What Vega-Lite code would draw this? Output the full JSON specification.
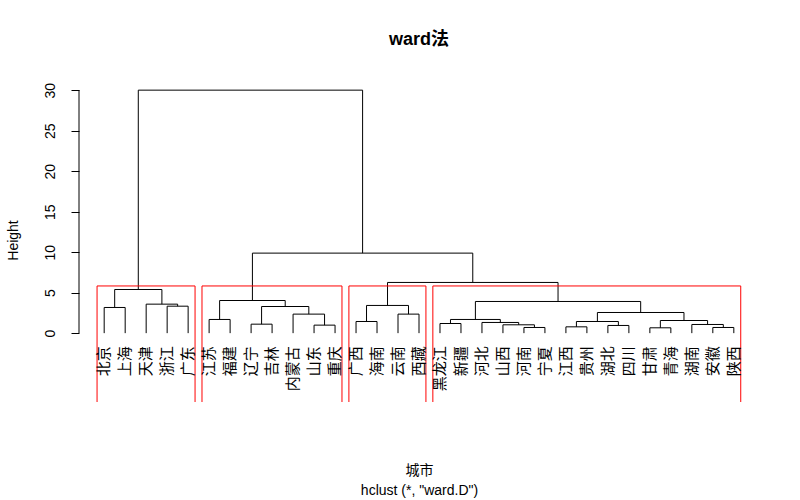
{
  "$schema": "https://vega.github.io/schema/vega-lite/v6.json",
  "width": 680,
  "height": 324,
  "autosize": {"type": "none"},
  "padding": {"left": 79, "top": 78, "right": 41, "bottom": 98},
  "background": "white",
  "title": {"text": "ward法", "font": "Liberation Sans, Noto Sans CJK SC", "fontSize": 18, "fontWeight": "bold", "color": "black", "anchor": "middle", "offset": 29},
  "config": {"view": {"stroke": null}},
  "resolve": {"axis": {"x": "independent", "y": "independent"}},
  "datasets": {
    "merges": [
      {"left": 1, "leftHeight": 0, "right": 2, "rightHeight": 0, "height": 3.17},
      {"left": 4, "leftHeight": 0, "right": 5, "rightHeight": 0, "height": 3.33},
      {"left": 3, "leftHeight": 0, "right": 4.5, "rightHeight": 3.33, "height": 3.58},
      {"left": 1.5, "leftHeight": 3.17, "right": 3.75, "rightHeight": 3.58, "height": 5.39},
      {"left": 6, "leftHeight": 0, "right": 7, "rightHeight": 0, "height": 1.69},
      {"left": 8, "leftHeight": 0, "right": 9, "rightHeight": 0, "height": 1.11},
      {"left": 11, "leftHeight": 0, "right": 12, "rightHeight": 0, "height": 0.99},
      {"left": 10, "leftHeight": 0, "right": 11.5, "rightHeight": 0.99, "height": 2.35},
      {"left": 8.5, "leftHeight": 1.11, "right": 10.75, "rightHeight": 2.35, "height": 3.29},
      {"left": 6.5, "leftHeight": 1.69, "right": 9.625, "rightHeight": 3.29, "height": 4.03},
      {"left": 13, "leftHeight": 0, "right": 14, "rightHeight": 0, "height": 1.44},
      {"left": 15, "leftHeight": 0, "right": 16, "rightHeight": 0, "height": 2.35},
      {"left": 13.5, "leftHeight": 1.44, "right": 15.5, "rightHeight": 2.35, "height": 3.42},
      {"left": 17, "leftHeight": 0, "right": 18, "rightHeight": 0, "height": 1.19},
      {"left": 21, "leftHeight": 0, "right": 22, "rightHeight": 0, "height": 0.70},
      {"left": 20, "leftHeight": 0, "right": 21.5, "rightHeight": 0.70, "height": 1.03},
      {"left": 19, "leftHeight": 0, "right": 20.75, "rightHeight": 1.03, "height": 1.32},
      {"left": 17.5, "leftHeight": 1.19, "right": 19.875, "rightHeight": 1.32, "height": 1.69},
      {"left": 23, "leftHeight": 0, "right": 24, "rightHeight": 0, "height": 0.78},
      {"left": 25, "leftHeight": 0, "right": 26, "rightHeight": 0, "height": 0.95},
      {"left": 23.5, "leftHeight": 0.78, "right": 25.5, "rightHeight": 0.95, "height": 1.44},
      {"left": 27, "leftHeight": 0, "right": 28, "rightHeight": 0, "height": 0.66},
      {"left": 30, "leftHeight": 0, "right": 31, "rightHeight": 0, "height": 0.70},
      {"left": 29, "leftHeight": 0, "right": 30.5, "rightHeight": 0.70, "height": 1.07},
      {"left": 27.5, "leftHeight": 0.66, "right": 29.75, "rightHeight": 1.07, "height": 1.56},
      {"left": 24.5, "leftHeight": 1.44, "right": 28.625, "rightHeight": 1.56, "height": 2.55},
      {"left": 18.6875, "leftHeight": 1.69, "right": 26.5625, "rightHeight": 2.55, "height": 3.91},
      {"left": 14.5, "leftHeight": 3.42, "right": 22.625, "rightHeight": 3.91, "height": 6.26},
      {"left": 8.0625, "leftHeight": 4.03, "right": 18.5625, "rightHeight": 6.26, "height": 9.88},
      {"left": 2.625, "leftHeight": 5.39, "right": 13.3125, "rightHeight": 9.88, "height": 30.0}
    ],
    "leaves": [
      {"name": "北京", "pos": 1}, {"name": "上海", "pos": 2}, {"name": "天津", "pos": 3},
      {"name": "浙江", "pos": 4}, {"name": "广东", "pos": 5}, {"name": "江苏", "pos": 6},
      {"name": "福建", "pos": 7}, {"name": "辽宁", "pos": 8}, {"name": "吉林", "pos": 9},
      {"name": "内蒙古", "pos": 10}, {"name": "山东", "pos": 11}, {"name": "重庆", "pos": 12},
      {"name": "广西", "pos": 13}, {"name": "海南", "pos": 14}, {"name": "云南", "pos": 15},
      {"name": "西藏", "pos": 16}, {"name": "黑龙江", "pos": 17}, {"name": "新疆", "pos": 18},
      {"name": "河北", "pos": 19}, {"name": "山西", "pos": 20}, {"name": "河南", "pos": 21},
      {"name": "宁夏", "pos": 22}, {"name": "江西", "pos": 23}, {"name": "贵州", "pos": 24},
      {"name": "湖北", "pos": 25}, {"name": "四川", "pos": 26}, {"name": "甘肃", "pos": 27},
      {"name": "青海", "pos": 28}, {"name": "湖南", "pos": 29}, {"name": "安徽", "pos": 30},
      {"name": "陕西", "pos": 31}
    ],
    "boxes": [
      {"from": 0.66, "to": 5.33, "bottom": -9, "top": 5.825},
      {"from": 5.66, "to": 12.33, "bottom": -9, "top": 5.825},
      {"from": 12.66, "to": 16.33, "bottom": -9, "top": 5.825},
      {"from": 16.66, "to": 31.33, "bottom": -9, "top": 5.825}
    ],
    "axisline": [{"at": -0.2, "from": 0, "to": 30}]
  },
  "layer": [
    {
      "data": {"name": "merges"},
      "mark": {"type": "rule", "color": "black", "strokeWidth": 1},
      "encoding": {
        "x": {"field": "left", "type": "quantitative", "scale": {"domain": [-0.2, 32.2], "nice": false, "zero": false},
              "axis": {"labels": false, "ticks": false, "domain": false, "grid": false,
                       "title": ["城市", "hclust (*, \"ward.D\")"], "titleFont": "Liberation Sans, Noto Sans CJK SC",
                       "titleFontSize": 14, "titleFontWeight": "normal", "titleColor": "black", "titlePadding": 61, "titleLineHeight": 20}},
        "x2": {"field": "right"},
        "y": {"field": "height", "type": "quantitative", "scale": {"domain": [-8.5, 31.5], "nice": false, "zero": false},
              "axis": {"values": [0, 5, 10, 15, 20, 25, 30], "domain": false, "grid": false, "tickSize": 8, "tickColor": "black",
                       "labelAngle": 270, "labelAlign": "center", "labelBaseline": "bottom", "labelPadding": 14,
                       "labelFont": "Liberation Sans", "labelFontSize": 14, "labelColor": "black",
                       "title": "Height", "titleFont": "Liberation Sans", "titleFontSize": 14, "titleFontWeight": "normal",
                       "titleColor": "black", "titlePadding": 23}}
      }
    },
    {
      "data": {"name": "merges"},
      "mark": {"type": "rule", "color": "black", "strokeWidth": 1},
      "encoding": {
        "x": {"field": "left", "type": "quantitative", "axis": null},
        "y": {"field": "leftHeight", "type": "quantitative", "axis": null},
        "y2": {"field": "height"}
      }
    },
    {
      "data": {"name": "merges"},
      "mark": {"type": "rule", "color": "black", "strokeWidth": 1},
      "encoding": {
        "x": {"field": "right", "type": "quantitative", "axis": null},
        "y": {"field": "rightHeight", "type": "quantitative", "axis": null},
        "y2": {"field": "height"}
      }
    },
    {
      "data": {"name": "boxes"},
      "mark": {"type": "rect", "fillOpacity": 0, "stroke": "#FF0000", "strokeWidth": 1, "clip": true},
      "encoding": {
        "x": {"field": "from", "type": "quantitative", "axis": null},
        "x2": {"field": "to"},
        "y": {"field": "bottom", "type": "quantitative", "axis": null},
        "y2": {"field": "top"}
      }
    },
    {
      "data": {"name": "axisline"},
      "mark": {"type": "rule", "color": "black", "strokeWidth": 1},
      "encoding": {
        "x": {"field": "at", "type": "quantitative", "axis": null},
        "y": {"field": "from", "type": "quantitative", "axis": null},
        "y2": {"field": "to"}
      }
    },
    {
      "data": {"name": "leaves"},
      "mark": {"type": "text", "angle": 270, "align": "right", "baseline": "middle", "dx": -13,
               "font": "Noto Sans CJK SC", "fontSize": 15, "color": "black"},
      "encoding": {
        "x": {"field": "pos", "type": "quantitative", "axis": null},
        "y": {"datum": 0, "type": "quantitative", "axis": null},
        "text": {"field": "name"}
      }
    }
  ]
}
